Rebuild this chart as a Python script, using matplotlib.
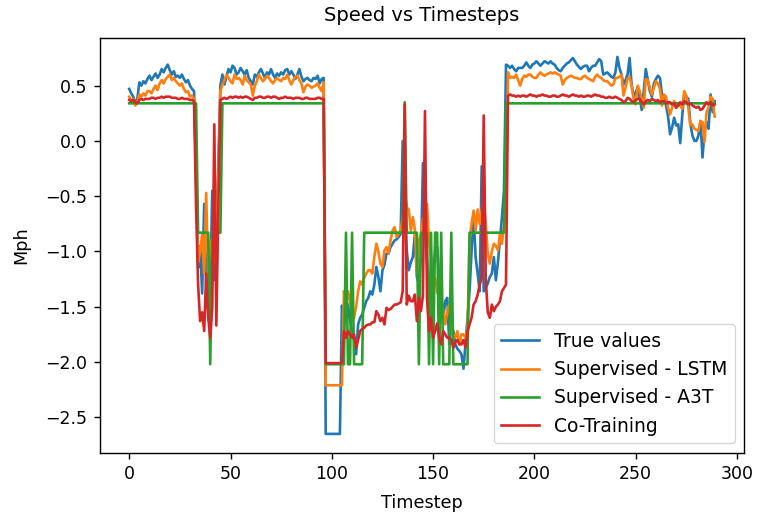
import numpy as np
import matplotlib
matplotlib.use("Agg")
import matplotlib.pyplot as plt

# Speed readings per timestep (0..289)
true_values = [
    0.47, 0.43, 0.40, 0.34, 0.38, 0.53, 0.50, 0.54, 0.52, 0.56,
    0.59, 0.55, 0.58, 0.61, 0.57, 0.60, 0.65, 0.62, 0.66, 0.69,
    0.64, 0.60, 0.63, 0.58, 0.59, 0.57, 0.60, 0.56, 0.53, 0.55,
    0.50, 0.47, 0.45, -0.30, -1.15, -0.95, -1.38, -0.57, -1.30, -1.00,
    -1.35, -0.45, -1.26, -0.80, -0.20, 0.50, 0.60, 0.51, 0.58, 0.65,
    0.62, 0.68, 0.66, 0.60, 0.62, 0.66, 0.63, 0.60, 0.64, 0.57,
    0.54, 0.51, 0.60, 0.58, 0.62, 0.65, 0.61, 0.57, 0.62, 0.60,
    0.65, 0.60, 0.57, 0.61, 0.59, 0.62, 0.60, 0.64, 0.65, 0.60,
    0.63, 0.60, 0.56, 0.60, 0.65, 0.58, 0.54, 0.56, 0.57, 0.55,
    0.54, 0.57, 0.56, 0.59, 0.52, 0.56, 0.57, -2.65, -2.65, -2.65,
    -2.65, -2.65, -2.65, -2.65, -2.65, -1.49, -1.66, -1.54, -1.48, -1.63,
    -1.72, -1.80, -1.93, -1.66, -1.60, -1.57, -1.51, -1.45, -1.42, -1.36,
    -1.39, -1.30, -1.14, -1.23, -1.36, -1.17, -1.12, -1.02, -1.02, -0.96,
    -0.93, -0.90, -0.89, -0.87, -0.84, 0.00, -0.60, -0.99, -1.17, -1.10,
    -1.05, -0.85, -1.23, -1.30, -1.05, -0.20, -0.75, -1.11, -1.29, -1.48,
    -1.20, -0.99, -0.96, -1.23, -1.40, -1.60, -1.45, -1.42, -1.84, -1.66,
    -1.72, -1.84, -1.88, -1.90, -1.93, -2.06, -1.84, -1.60, -1.36, -1.00,
    -0.66, -1.05, -1.20, -1.36, -0.23, -1.36, -1.33, -1.29, -1.23, -1.20,
    -1.05, -1.26, -1.10, -0.90, -0.69, -0.45, 0.69, 0.68, 0.66, 0.68,
    0.65, 0.63, 0.66, 0.66, 0.66, 0.68, 0.71, 0.68, 0.66, 0.69,
    0.70, 0.72, 0.70, 0.68, 0.70, 0.72, 0.71, 0.70, 0.72, 0.70,
    0.69, 0.66, 0.64, 0.63, 0.66, 0.68, 0.70, 0.71, 0.73, 0.75,
    0.72, 0.69, 0.67, 0.65, 0.67, 0.68, 0.68, 0.63, 0.66, 0.68,
    0.68, 0.71, 0.74, 0.72, 0.60, 0.61, 0.62, 0.60, 0.58, 0.57,
    0.62, 0.76, 0.66, 0.60, 0.51, 0.55, 0.60, 0.75, 0.51, 0.40,
    0.44, 0.48, 0.39, 0.28, 0.45, 0.65, 0.55, 0.45, 0.40, 0.52,
    0.56, 0.59, 0.57, 0.42, 0.39, 0.32, 0.22, 0.06, 0.12, 0.21,
    0.14, 0.15, -0.02, 0.23, 0.42, 0.40, 0.38, 0.16, 0.05, 0.00,
    0.00, 0.05, 0.18, -0.15, 0.09, 0.17, 0.11, 0.42, 0.26, 0.36,
]

lstm = [
    0.40, 0.36, 0.38, 0.32, 0.35, 0.42, 0.40, 0.43, 0.41, 0.45,
    0.45, 0.43, 0.47, 0.50, 0.46, 0.52, 0.55, 0.52, 0.56, 0.58,
    0.60, 0.55, 0.57, 0.54, 0.52, 0.50, 0.52, 0.47, 0.44, 0.45,
    0.40, 0.41, 0.38, -0.20, -1.10, -1.00, -0.85, -1.20, -0.47, -1.25,
    -0.90, -1.00, -1.10, -0.90, -0.30, 0.45, 0.51, 0.55, 0.60, 0.57,
    0.54, 0.52, 0.60, 0.56, 0.57, 0.55, 0.51, 0.59, 0.55, 0.53,
    0.51, 0.41, 0.50, 0.54, 0.60, 0.57, 0.54, 0.56, 0.59, 0.57,
    0.54, 0.52, 0.55, 0.57, 0.55, 0.54, 0.57, 0.56, 0.60, 0.55,
    0.51, 0.55, 0.58, 0.59, 0.55, 0.52, 0.44, 0.49, 0.51, 0.50,
    0.48, 0.49, 0.50, 0.52, 0.48, 0.45, 0.53, -2.21, -2.21, -2.21,
    -2.21, -2.21, -2.21, -2.21, -2.21, -2.21, -1.36, -1.48, -1.36, -1.45,
    -1.55, -1.60, -1.50, -1.36, -1.27, -1.30, -1.24, -1.20, -1.17, -1.17,
    -1.20, -1.05, -0.93, -1.00, -1.11, -1.14, -0.99, -0.96, -1.02, -0.90,
    -0.81, -0.78, -0.87, -0.84, -0.81, -0.70, -0.45, -0.60, -0.62, -0.81,
    -0.69, -0.80, -1.20, -0.90, -0.85, -0.70, -0.80, -0.57, -0.90, -1.05,
    -1.30, -1.24, -1.36, -1.42, -1.48, -1.54, -1.66, -1.54, -1.48, -1.72,
    -1.75, -1.78, -1.72, -1.84, -1.75, -1.75, -1.78, -1.70, -0.90, -0.75,
    -0.63, -0.81, -0.62, -0.75, -0.63, -0.54, -0.75, -1.02, -1.11, -1.00,
    -0.93, -0.95, -0.99, -0.84, -0.93, -0.75, -0.60, 0.62, 0.57, 0.58,
    0.57, 0.60, 0.55, 0.50, 0.56, 0.59, 0.58, 0.60, 0.60, 0.58,
    0.57, 0.57, 0.60, 0.62, 0.60, 0.59, 0.60, 0.61, 0.62, 0.61,
    0.62, 0.61, 0.60, 0.59, 0.51, 0.55, 0.57, 0.58, 0.59, 0.58,
    0.57, 0.57, 0.56, 0.56, 0.58, 0.59, 0.57, 0.56, 0.55, 0.54,
    0.58, 0.60, 0.58, 0.57, 0.55, 0.54, 0.54, 0.52, 0.50, 0.51,
    0.57, 0.57, 0.58, 0.60, 0.41, 0.48, 0.56, 0.58, 0.50, 0.38,
    0.33, 0.50, 0.45, 0.38, 0.30, 0.56, 0.55, 0.48, 0.42, 0.48,
    0.54, 0.52, 0.47, 0.32, 0.42, 0.40, 0.30, 0.24, 0.30, 0.36,
    0.30, 0.33, 0.32, 0.29, 0.45, 0.41, 0.30, 0.14, 0.15, 0.11,
    0.10, 0.09, 0.18, 0.17, -0.01, 0.26, 0.30, 0.40, 0.38, 0.22,
]

co_training = [
    0.37, 0.36, 0.37, 0.35, 0.34, 0.37, 0.38, 0.37, 0.38, 0.38,
    0.38, 0.39, 0.39, 0.38, 0.39, 0.39, 0.40, 0.39, 0.40, 0.40,
    0.40, 0.39, 0.39, 0.39, 0.38, 0.38, 0.39, 0.38, 0.38, 0.38,
    0.37, 0.37, 0.36, -0.60, -1.30, -1.63, -1.55, -1.72, -1.20, -1.60,
    -1.78, -1.50, 0.15, -1.67, -0.60, 0.37, 0.38, 0.39, 0.38, 0.39,
    0.40, 0.39, 0.40, 0.40, 0.39, 0.40, 0.39, 0.40, 0.40, 0.39,
    0.38, 0.37, 0.39, 0.39, 0.40, 0.40, 0.39, 0.39, 0.40, 0.40,
    0.39, 0.40, 0.40, 0.39, 0.38, 0.39, 0.39, 0.40, 0.39, 0.39,
    0.39, 0.38, 0.39, 0.39, 0.39, 0.38, 0.38, 0.39, 0.39, 0.38,
    0.38, 0.38, 0.38, 0.39, 0.39, 0.38, 0.38, -2.01, -2.01, -2.01,
    -2.01, -2.01, -2.01, -2.01, -2.01, -2.01, -1.72, -1.78, -1.72, -1.75,
    -1.78, -1.75, -1.87, -1.80, -1.72, -1.70, -1.69, -1.67, -1.66, -1.66,
    -1.64, -1.64, -1.54, -1.57, -1.63, -1.60, -1.66, -1.51, -1.53, -1.52,
    -1.50, -1.48, -1.48, -1.47, -1.46, -1.36, 0.33, -1.48, -1.40, -1.45,
    -1.45, -1.39, -1.63, -1.42, -1.54, -1.40, 0.27, -1.42, -1.72, -1.60,
    -1.78, -1.72, -1.65, -1.78, -1.84, -1.72, -1.75, -1.78, -1.78, -1.80,
    -1.87, -1.82, -1.80, -1.84, -1.84, -1.80, -1.87, -1.72, -1.66, -1.60,
    -1.48, -1.45, -1.39, -1.30, -1.24, 0.23, -1.25, -1.55, -1.60, -1.48,
    -1.54, -1.50, -1.48, -1.45, -1.36, -1.33, -1.30, 0.41, 0.42, 0.41,
    0.41, 0.40, 0.41, 0.40, 0.41, 0.41, 0.40, 0.41, 0.42, 0.41,
    0.41, 0.40, 0.41, 0.41, 0.42, 0.41, 0.41, 0.40, 0.40, 0.41,
    0.41, 0.40, 0.40, 0.41, 0.42, 0.41, 0.41, 0.40, 0.41, 0.42,
    0.41, 0.41, 0.40, 0.41, 0.40, 0.40, 0.41, 0.41, 0.40, 0.41,
    0.42, 0.41, 0.41, 0.40, 0.40, 0.39, 0.39, 0.40, 0.39, 0.39,
    0.40, 0.39, 0.38, 0.37, 0.35, 0.36, 0.39, 0.38, 0.36, 0.35,
    0.37, 0.38, 0.38, 0.35, 0.33, 0.36, 0.37, 0.36, 0.38, 0.37,
    0.36, 0.37, 0.35, 0.36, 0.36, 0.34, 0.35, 0.35, 0.33, 0.34,
    0.30, 0.32, 0.35, 0.33, 0.36, 0.35, 0.33, 0.34, 0.32, 0.31,
    0.30, 0.31, 0.28, 0.29, 0.32, 0.35, 0.33, 0.35, 0.32, 0.33,
]

# A3T output is a step signal: (value, number of timesteps)
a3t_runs = [
    (0.34, 34), (-0.83, 6), (-2.02, 1), (-0.83, 5), (0.34, 51),
    (-2.02, 10), (-0.83, 1), (-2.02, 2), (-0.83, 1), (-2.02, 5),
    (-0.83, 20), (0.35, 1), (-0.83, 6), (-2.02, 1), (-0.83, 4),
    (-2.02, 1), (-0.83, 1), (-2.02, 1), (-0.83, 2), (-2.02, 1),
    (-0.83, 1), (-2.02, 4), (-0.83, 1), (-2.02, 8), (-0.83, 18),
    (0.34, 104),
]

labels = ["True values", "Supervised - LSTM", "Supervised - A3T", "Co-Training"]


def main():
    a3t = np.repeat([v for v, n in a3t_runs], [n for v, n in a3t_runs])
    steps = np.arange(len(true_values))

    plt.rcParams["font.size"] = 12.5
    plt.rcParams["lines.linewidth"] = 1.9
    plt.rcParams["axes.linewidth"] = 1.0
    fig, ax = plt.subplots(figsize=(7.63, 5.21), dpi=100)
    fig.subplots_adjust(left=0.131, right=0.975, top=0.927, bottom=0.131)

    ax.plot(steps, true_values, color="tab:blue", label=labels[0])
    ax.plot(steps, lstm, color="tab:orange", label=labels[1])
    ax.plot(steps, a3t, color="tab:green", label=labels[2])
    ax.plot(steps, co_training, color="tab:red", label=labels[3])

    ax.set_title("Speed vs Timesteps", fontsize=14, pad=12)
    ax.set_xlabel("Timestep", fontsize=12.7, labelpad=8)
    ax.set_ylabel("Mph", fontsize=12.7, labelpad=11)
    ax.tick_params(labelsize=12.5, length=4.5, width=1.0, pad=4.5)
    ax.legend(loc="lower right", fontsize=13.5)

    fig.savefig("out.png", dpi=100)


if __name__ == "__main__":
    main()
